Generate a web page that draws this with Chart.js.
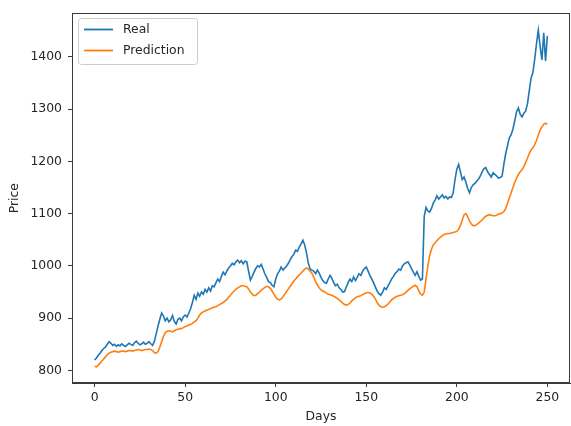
<!DOCTYPE html>
<html>
<head>
<meta charset="utf-8">
<script src="https://cdn.jsdelivr.net/npm/chart.js@4.4.1/dist/chart.umd.min.js"></script>
<style>
html,body{margin:0;padding:0;background:#fff;}
canvas{display:block;}
</style>
</head>
<body>
<canvas id="c" width="571" height="426"></canvas>
<script>
// ---- data ----
const realPrices = [
820,824,829,833,838,842,845,850,855,852,
848,850,846,849,847,851,848,846,849,852,
850,848,853,856,852,849,851,854,850,852,
855,851,848,856,870,885,898,910,904,895,
900,893,897,905,894,889,898,900,895,903,
906,902,910,918,930,944,936,948,942,950,
946,955,950,958,952,962,960,968,975,970,
980,988,983,990,996,1000,1005,1002,1008,1011,
1006,1010,1004,1009,1008,990,973,980,988,995,
1000,998,1003,994,985,978,970,968,963,960,
975,985,990,998,992,996,1000,1005,1012,1018,
1022,1030,1028,1036,1042,1049,1040,1025,1005,994,
992,990,985,992,986,978,972,968,967,975,
982,976,968,962,965,958,955,950,951,960,
968,975,970,979,972,978,985,982,990,995,
998,990,982,975,968,960,952,947,944,950,
958,955,962,968,975,980,986,989,994,992,
1000,1004,1006,1008,1002,995,988,982,989,980,
973,975,1095,1112,1105,1103,1110,1120,1126,1134,
1128,1132,1136,1130,1133,1128,1132,1131,1140,1165,
1185,1194,1180,1165,1170,1160,1148,1140,1150,1155,
1158,1162,1166,1172,1180,1186,1188,1180,1175,1170,
1178,1175,1172,1168,1169,1172,1195,1215,1230,1245,
1251,1262,1278,1295,1302,1290,1285,1292,1296,1310,
1335,1359,1370,1395,1425,1451,1420,1394,1446,1392,
1440
];
const predictedPrices = [
808,807,810,814,818,822,826,830,833,835,
836,837,836,835,836,837,837,836,837,838,
838,837,838,839,840,839,838,839,840,840,
841,840,838,834,833,836,845,855,865,872,
875,876,875,874,876,878,879,880,880,882,
884,885,887,888,890,893,895,900,906,910,
912,914,915,917,918,920,921,922,924,926,
928,930,933,936,940,944,948,952,955,958,
960,962,962,961,960,956,950,946,943,944,
947,950,953,956,959,961,960,957,952,946,
940,936,935,937,941,946,951,956,961,966,
971,975,979,983,986,990,994,996,994,990,
986,978,970,964,958,954,952,950,948,946,
945,944,942,940,938,935,932,929,926,925,
926,929,933,936,939,941,942,943,945,947,
948,949,948,946,942,937,930,925,922,921,
922,924,927,931,935,938,940,942,943,944,
945,947,950,953,956,959,961,963,960,952,
946,944,950,975,1000,1020,1032,1040,1044,1048,
1052,1055,1058,1060,1061,1062,1062,1063,1064,1065,
1066,1070,1078,1088,1098,1100,1094,1086,1080,1077,
1077,1079,1082,1085,1088,1092,1095,1097,1098,1097,
1096,1096,1097,1099,1100,1101,1104,1110,1120,1130,
1140,1150,1160,1168,1175,1180,1184,1190,1198,1206,
1215,1222,1226,1232,1240,1250,1260,1266,1271,1273,
1271
];
const days = realPrices.map((_, i) => i);
const xTickValues = [0, 50, 100, 150, 200, 250];
const yTickValues = [800, 900, 1000, 1100, 1200, 1300, 1400];
const seriesNames = ['Real', 'Prediction'];
const seriesColors = ['#1f77b4', '#ff7f0e'];

// ---- chart ----
const FONT = "'DejaVu Sans', sans-serif";
const TXT = '#262626';
const AX = '#3a3a3a';

const framePlugin = {
  id: 'frame',
  afterDraw(chart) {
    const {ctx, chartArea: a} = chart;
    ctx.save();
    ctx.strokeStyle = AX;
    ctx.lineWidth = 1;
    ctx.strokeRect(Math.round(a.left) + 0.5, Math.round(a.top) + 0.5,
                   Math.round(a.right - a.left) - 1, Math.round(a.bottom - a.top) - 1);
    ctx.restore();
  }
};

const legendPlugin = {
  id: 'mplLegend',
  afterDraw(chart) {
    const {ctx} = chart;
    const ds = chart.data.datasets;
    ctx.save();
    ctx.font = '12.4px ' + FONT;
    const x0 = 78.5, y0 = 18.5;
    const lineStart = 84, lineEnd = 113, textX = 123;
    const rows = [29.5, 50.5];
    let maxW = 0;
    ds.forEach(d => { maxW = Math.max(maxW, ctx.measureText(d.label).width); });
    const w = Math.max(textX + maxW + 7 - x0, 119);
    const h = 46;
    const r = 3;
    ctx.beginPath();
    ctx.moveTo(x0 + r, y0);
    ctx.lineTo(x0 + w - r, y0);
    ctx.quadraticCurveTo(x0 + w, y0, x0 + w, y0 + r);
    ctx.lineTo(x0 + w, y0 + h - r);
    ctx.quadraticCurveTo(x0 + w, y0 + h, x0 + w - r, y0 + h);
    ctx.lineTo(x0 + r, y0 + h);
    ctx.quadraticCurveTo(x0, y0 + h, x0, y0 + h - r);
    ctx.lineTo(x0, y0 + r);
    ctx.quadraticCurveTo(x0, y0, x0 + r, y0);
    ctx.closePath();
    ctx.fillStyle = 'rgba(255,255,255,0.8)';
    ctx.fill();
    ctx.strokeStyle = '#cccccc';
    ctx.lineWidth = 1;
    ctx.stroke();
    ds.forEach((d, i) => {
      ctx.strokeStyle = d.borderColor;
      ctx.lineWidth = 1.8;
      ctx.beginPath();
      ctx.moveTo(lineStart, rows[i]);
      ctx.lineTo(lineEnd, rows[i]);
      ctx.stroke();
      ctx.fillStyle = TXT;
      ctx.textBaseline = 'middle';
      ctx.textAlign = 'left';
      ctx.fillText(d.label, textX, rows[i]);
    });
    ctx.restore();
  }
};

new Chart(document.getElementById('c'), {
  type: 'line',
  data: {
    datasets: [
      {
        label: seriesNames[0],
        data: days.map((d, i) => ({x: d, y: realPrices[i]})),
        borderColor: seriesColors[0],
        borderWidth: 1.6,
        pointRadius: 0,
        tension: 0,
        fill: false
      },
      {
        label: seriesNames[1],
        data: days.map((d, i) => ({x: d, y: predictedPrices[i]})),
        borderColor: seriesColors[1],
        borderWidth: 1.6,
        pointRadius: 0,
        tension: 0,
        fill: false
      }
    ]
  },
  options: {
    responsive: false,
    devicePixelRatio: 1,
    animation: false,
    layout: { padding: { left: 0, top: 11.5, right: 1, bottom: 0 } },
    plugins: {
      legend: { display: false },
      tooltip: { enabled: false },
      title: { display: false }
    },
    scales: {
      x: {
        type: 'linear',
        min: -12.5,
        max: 262.5,
        afterBuildTicks(scale) { scale.ticks = xTickValues.map(v => ({value: v})); },
        afterFit(scale) { scale.height = 43; },
        grid: { display: true, drawOnChartArea: false, drawTicks: true, tickLength: 4, tickColor: AX },
        border: { display: true, color: AX, width: 1 },
        ticks: { color: TXT, font: { family: FONT, size: 12.4 }, padding: 3, maxRotation: 0, autoSkip: false,
                 callback: v => String(v) },
        title: { display: true, text: 'Days', color: TXT, font: { family: FONT, size: 12.4 }, padding: { top: 0, bottom: 1.5 } }
      },
      y: {
        type: 'linear',
        min: 776,
        max: 1483,
        afterBuildTicks(scale) { scale.ticks = yTickValues.map(v => ({value: v})); },
        afterFit(scale) { scale.width = 72; },
        grid: { display: true, drawOnChartArea: false, drawTicks: true, tickLength: 4, tickColor: AX },
        border: { display: true, color: AX, width: 1 },
        ticks: { color: TXT, font: { family: FONT, size: 12.4 }, padding: 6, autoSkip: false,
                 callback: v => String(v) },
        title: { display: true, text: 'Price', color: TXT, font: { family: FONT, size: 12.4 }, padding: { top: 7.5, bottom: 0 } }
      }
    }
  },
  plugins: [framePlugin, legendPlugin]
});
</script>
</body>
</html>
